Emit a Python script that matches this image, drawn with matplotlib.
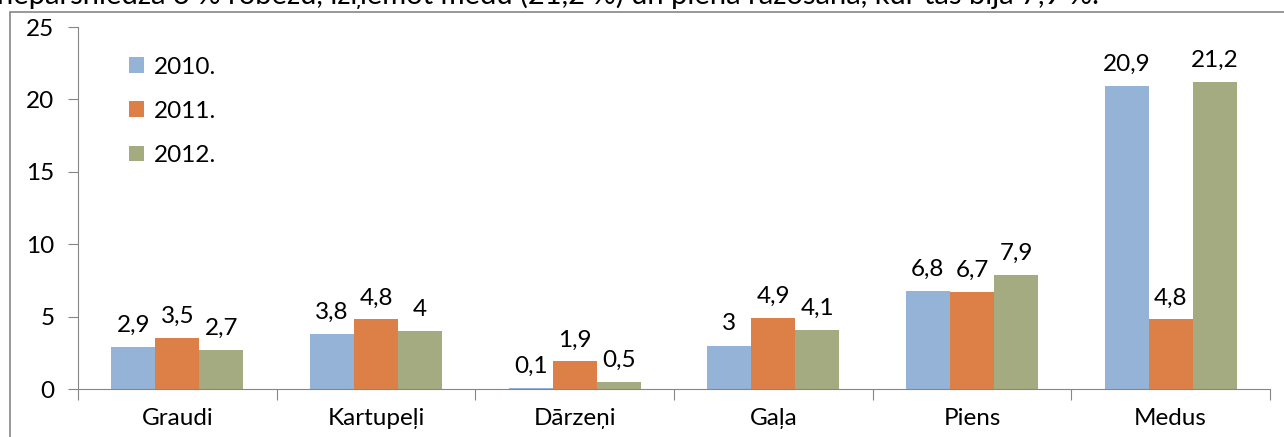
import matplotlib.pyplot as plt
import numpy as np
from matplotlib.patches import Rectangle

categories = ["Graudi", "Kartupeļi", "Dārzeņi", "Gaļa", "Piens", "Medus"]
years = ["2010.", "2011.", "2012."]
v2010 = [2.9, 3.8, 0.1, 3.0, 6.8, 20.9]
v2011 = [3.5, 4.8, 1.9, 4.9, 6.7, 4.8]
v2012 = [2.7, 4.0, 0.5, 4.1, 7.9, 21.2]
colors = ["#95B3D7", "#DD8047", "#A5AB81"]

plt.rcParams["font.family"] = ["Lato", "DejaVu Sans"]
fs = 17.5

fig = plt.figure(figsize=(12.84, 4.37), dpi=100)
ax = fig.add_axes([78 / 1284, 1 - 389 / 437, (1270 - 78) / 1284, (389 - 27) / 437])

# outer chart frame
fig.patches.append(Rectangle((10 / 1284, -0.1), 1.1, 1 - 12 / 437 + 0.1,
                             transform=fig.transFigure, fill=False,
                             edgecolor="#868686", lw=1.2))
# cut-off line of text above the chart
fig.text(-0.002, 1 - 4 / 437,
         "nepārsniedza 3 % robežu, izņemot medu (21,2 %) un piena ražošanā, kur tas bija 7,9 %.",
         fontsize=21, va="baseline", ha="left")

x = np.arange(len(categories))
w = 0.222
for i, (vals, lab) in enumerate(zip([v2010, v2011, v2012], years)):
    bars = ax.bar(x + (i - 1) * w, vals, w, color=colors[i], label=lab)
    for b, v in zip(bars, vals):
        ax.annotate(f"{v:g}".replace(".", ","), (b.get_x() + b.get_width() / 2, v),
                    xytext=(0, 8), textcoords="offset points",
                    ha="center", va="bottom", fontsize=fs)

ax.set_xlim(-0.5, len(categories) - 0.5)
ax.set_ylim(0, 25)
ax.set_yticks(range(0, 26, 5))
ax.set_xticks(np.arange(-0.5, len(categories)), minor=False)
ax.set_xticklabels([])
ax.set_xticks(x, minor=True)
ax.set_xticklabels(categories, minor=True)
ax.tick_params(axis="x", which="minor", length=0, pad=14, labelsize=fs)
ax.tick_params(axis="x", which="major", length=8, color="#868686")
ax.tick_params(axis="y", length=7, color="#868686", labelsize=fs, pad=10)
for s in ["top", "right"]:
    ax.spines[s].set_visible(False)
for s in ["left", "bottom"]:
    ax.spines[s].set_color("#868686")

ax.legend(loc="upper left", bbox_to_anchor=(0.035, 0.945), frameon=False,
          fontsize=fs, handlelength=0.6, handleheight=0.6, handletextpad=0.4,
          labelspacing=0.95, borderaxespad=0)

fig.savefig("out.png", dpi=100)
